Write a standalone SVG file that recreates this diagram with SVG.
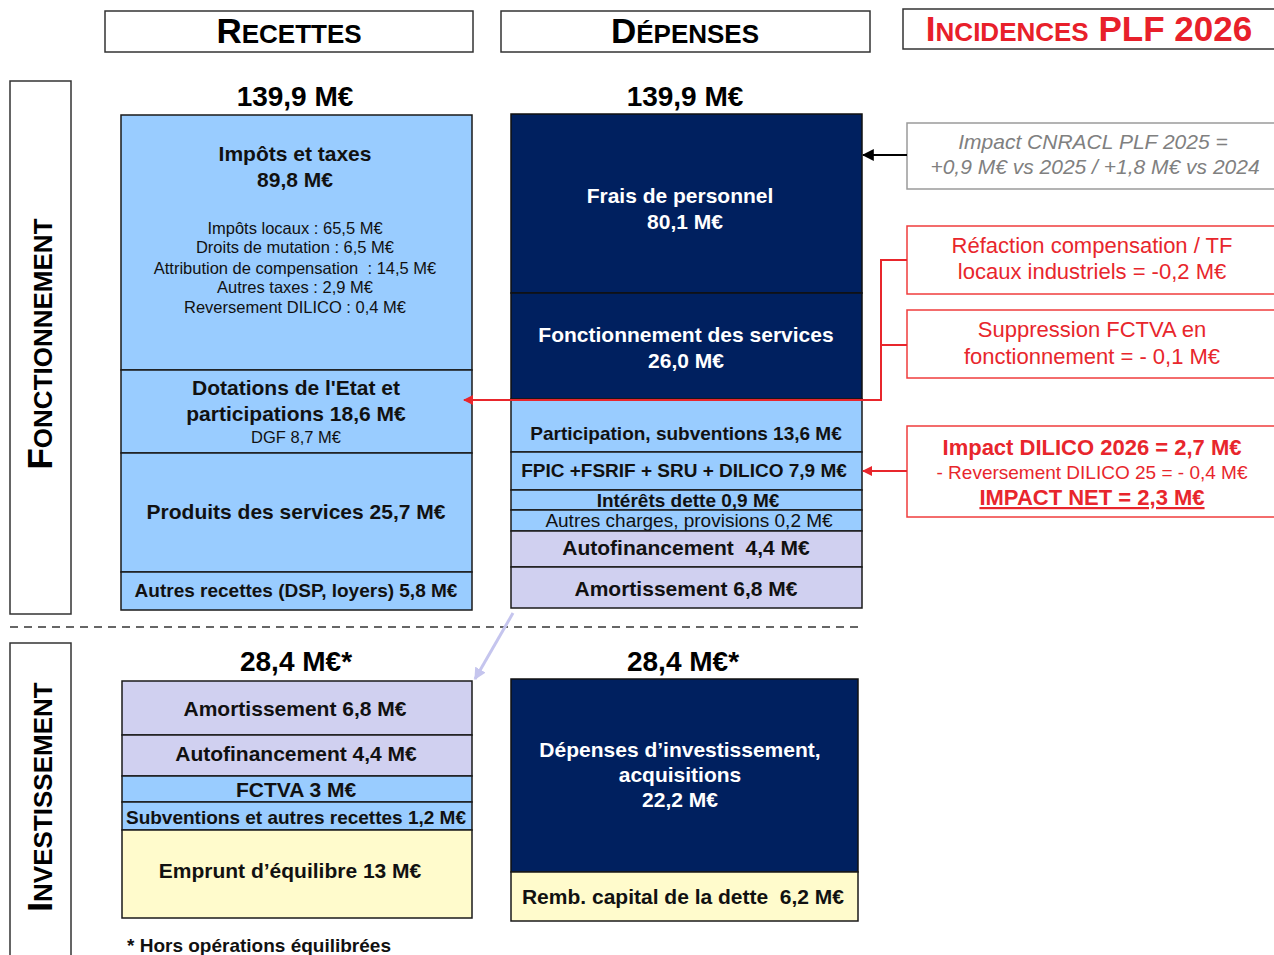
<svg xmlns="http://www.w3.org/2000/svg" width="1274" height="955" viewBox="0 0 1274 955">
<defs>
<style>
text{font-family:"Liberation Sans",Arial,sans-serif;}
.hd{font-weight:bold;fill:#000;}
.b{font-weight:bold;font-size:21px;fill:#111;text-anchor:middle;}
.b19{font-weight:bold;font-size:19px;fill:#111;text-anchor:middle;}
.w{font-weight:bold;font-size:21px;fill:#fff;text-anchor:middle;}
.s{font-size:16.5px;fill:#111;text-anchor:middle;}
.tot{font-weight:bold;font-size:28px;fill:#000;text-anchor:middle;}
.lb{fill:#99ccff;stroke:#1a1a1a;stroke-width:1.5;}
.nv{fill:#00205f;stroke:#111;stroke-width:1.5;}
.lv{fill:#d0d0f0;stroke:#1a1a1a;stroke-width:1.5;}
.yl{fill:#fffbcc;stroke:#1a1a1a;stroke-width:1.5;}
.frame{fill:#fff;stroke:#333;stroke-width:1.5;}
.rbox{fill:#fff;stroke:#f03c3c;stroke-width:1.5;}
.rt{font-size:22px;fill:#e8262c;text-anchor:middle;}
.gt{font-size:21px;font-style:italic;fill:#808080;text-anchor:middle;}
</style>
<marker id="ab" viewBox="0 0 10 10" refX="9" refY="5" markerWidth="6" markerHeight="6" orient="auto"><path d="M0,0 L10,5 L0,10 z" fill="#000"/></marker>
<marker id="ar" viewBox="0 0 10 10" refX="9" refY="5" markerWidth="5" markerHeight="5" orient="auto"><path d="M0,0 L10,5 L0,10 z" fill="#e8262c"/></marker>
<marker id="al" viewBox="0 0 10 10" refX="9" refY="5" markerWidth="4" markerHeight="4" orient="auto"><path d="M0,0 L10,5 L0,10 z" fill="#c5c5ee"/></marker>
</defs>
<rect width="1274" height="955" fill="#fff"/>

<g id="headers">
<rect class="frame" x="105" y="11" width="368" height="41"/>
<text class="hd" x="289" y="43" text-anchor="middle" font-size="35">R<tspan font-size="26">ECETTES</tspan></text>
<rect class="frame" x="501" y="11" width="369" height="41"/>
<text class="hd" x="685" y="43" text-anchor="middle" font-size="35">D<tspan font-size="26">ÉPENSES</tspan></text>
<rect class="frame" x="903" y="9" width="380" height="40"/>
<text x="1089" y="41" text-anchor="middle" font-size="35" font-weight="bold" fill="#e8202a">I<tspan font-size="26">NCIDENCES</tspan> PLF 2026</text>
</g>

<g id="section-fonctionnement">
<rect class="frame" x="10" y="81" width="61" height="533"/>
<text class="hd" transform="translate(52,344) rotate(-90)" text-anchor="middle" font-size="35">F<tspan font-size="26">ONCTIONNEMENT</tspan></text>
</g>
<g id="section-investissement">
<rect class="frame" x="10" y="643" width="61" height="330"/>
<text class="hd" transform="translate(52,797) rotate(-90)" text-anchor="middle" font-size="35">I<tspan font-size="26">NVESTISSEMENT</tspan></text>
</g>
<line x1="10" y1="627" x2="860" y2="627" stroke="#666" stroke-width="2" stroke-dasharray="8,6"/>

<g id="totals">
<text class="tot" x="295" y="106">139,9 M€</text>
<text class="tot" x="685" y="106">139,9 M€</text>
<text class="tot" x="296" y="671">28,4 M€*</text>
<text class="tot" x="683" y="671">28,4 M€*</text>
</g>

<g id="rec-impots">
<rect class="lb" x="121" y="115" width="351" height="255"/>
<text class="b" x="295" y="161">Impôts et taxes</text>
<text class="b" x="295" y="187">89,8 M€</text>
<text class="s" x="295" y="234">Impôts locaux : 65,5 M€</text>
<text class="s" x="295" y="253">Droits de mutation : 6,5 M€</text>
<text class="s" x="295" y="274" xml:space="preserve">Attribution de compensation  : 14,5 M€</text>
<text class="s" x="295" y="293">Autres taxes : 2,9 M€</text>
<text class="s" x="295" y="313">Reversement DILICO : 0,4 M€</text>
</g>
<g id="rec-dotations">
<rect class="lb" x="121" y="370" width="351" height="83"/>
<text class="b" x="296" y="395">Dotations de l'Etat et</text>
<text class="b" x="296" y="421">participations 18,6 M€</text>
<text class="s" x="296" y="443">DGF 8,7 M€</text>
</g>
<g id="rec-produits">
<rect class="lb" x="121" y="453" width="351" height="119"/>
<text class="b" x="296" y="519">Produits des services 25,7 M€</text>
</g>
<g id="rec-autres">
<rect class="lb" x="121" y="572" width="351" height="38"/>
<text class="b19" x="296" y="597">Autres recettes (DSP, loyers) 5,8 M€</text>
</g>

<g id="dep-personnel">
<rect class="nv" x="511" y="114" width="351" height="179"/>
<text class="w" x="680" y="203">Frais de personnel</text>
<text class="w" x="685" y="229">80,1 M€</text>
</g>
<g id="dep-fonctionnement">
<rect class="nv" x="511" y="293" width="351" height="106"/>
<text class="w" x="686" y="342">Fonctionnement des services</text>
<text class="w" x="686" y="368">26,0 M€</text>
</g>
<g id="dep-participation">
<rect class="lb" x="511" y="399" width="351" height="53"/>
<text class="b19" x="686" y="440">Participation, subventions 13,6 M€</text>
</g>
<g id="dep-fpic">
<rect class="lb" x="511" y="452" width="351" height="38"/>
<text class="b19" x="684" y="477">FPIC +FSRIF + SRU + DILICO 7,9 M€</text>
</g>
<g id="dep-interets">
<rect class="lb" x="511" y="490" width="351" height="20"/>
<text class="b19" x="688" y="507">Intérêts dette 0,9 M€</text>
</g>
<g id="dep-autres">
<rect class="lb" x="511" y="510" width="351" height="21"/>
<text x="689" y="527" font-size="19" fill="#111" text-anchor="middle">Autres charges, provisions 0,2 M€</text>
</g>
<g id="dep-autofinancement">
<rect class="lv" x="511" y="531" width="351" height="36"/>
<text class="b" x="686" y="555" xml:space="preserve">Autofinancement  4,4 M€</text>
</g>
<g id="dep-amortissement">
<rect class="lv" x="511" y="567" width="351" height="41"/>
<text class="b" x="686" y="596">Amortissement 6,8 M€</text>
</g>

<g id="inv-amortissement">
<rect class="lv" x="122" y="681" width="350" height="54"/>
<text class="b" x="295" y="716">Amortissement 6,8 M€</text>
</g>
<g id="inv-autofinancement">
<rect class="lv" x="122" y="735" width="350" height="41"/>
<text class="b" x="296" y="761">Autofinancement 4,4 M€</text>
</g>
<g id="inv-fctva">
<rect class="lb" x="122" y="776" width="350" height="26"/>
<text class="b" x="296" y="797">FCTVA 3 M€</text>
</g>
<g id="inv-subventions">
<rect class="lb" x="122" y="802" width="350" height="28"/>
<text class="b19" x="296" y="824">Subventions et autres recettes 1,2 M€</text>
</g>
<g id="inv-emprunt">
<rect class="yl" x="122" y="830" width="350" height="88"/>
<text class="b" x="290" y="878">Emprunt d’équilibre 13 M€</text>
</g>
<g id="inv-depenses">
<rect class="nv" x="511" y="679" width="347" height="193"/>
<text class="w" x="680" y="757">Dépenses d’investissement,</text>
<text class="w" x="680" y="782">acquisitions</text>
<text class="w" x="680" y="807">22,2 M€</text>
</g>
<g id="inv-remb">
<rect class="yl" x="511" y="872" width="347" height="49"/>
<text class="b" x="683" y="904" xml:space="preserve">Remb. capital de la dette  6,2 M€</text>
</g>
<text x="127" y="952" font-weight="bold" font-size="19" fill="#111">* Hors opérations équilibrées</text>

<g id="inc-cnracl">
<rect x="907" y="123" width="380" height="66" fill="#fff" stroke="#9a9a9a" stroke-width="1.5"/>
<text class="gt" x="1093" y="149">Impact CNRACL PLF 2025 =</text>
<text class="gt" x="1095" y="174">+0,9 M€ vs 2025 / +1,8 M€ vs 2024</text>
</g>
<g id="inc-refaction">
<rect class="rbox" x="907" y="226" width="380" height="68"/>
<text class="rt" x="1092" y="253">Réfaction compensation / TF</text>
<text class="rt" x="1092" y="279">locaux industriels = -0,2 M€</text>
</g>
<g id="inc-fctva">
<rect class="rbox" x="907" y="310" width="380" height="68"/>
<text class="rt" x="1092" y="337">Suppression FCTVA en</text>
<text class="rt" x="1092" y="364">fonctionnement = - 0,1 M€</text>
</g>
<g id="inc-dilico">
<rect class="rbox" x="907" y="426" width="380" height="91"/>
<text class="rt" x="1092" y="455" font-weight="bold">Impact DILICO 2026 = 2,7 M€</text>
<text class="rt" x="1092" y="479" style="font-size:19px">- Reversement DILICO 25 = - 0,4 M€</text>
<text class="rt" x="1092" y="505" font-weight="bold" text-decoration="underline">IMPACT NET = 2,3 M€</text>
</g>

<g id="connectors" fill="none">
<line x1="907" y1="155" x2="863" y2="155" stroke="#000" stroke-width="2" marker-end="url(#ab)"/>
<polyline points="907,260 881,260 881,400 464,400" stroke="#e8262c" stroke-width="2" marker-end="url(#ar)"/>
<line x1="907" y1="345" x2="881" y2="345" stroke="#e8262c" stroke-width="2"/>
<line x1="907" y1="471" x2="863" y2="471" stroke="#e8262c" stroke-width="2" marker-end="url(#ar)"/>
<line x1="513" y1="613" x2="475" y2="679" stroke="#c5c5ee" stroke-width="3" marker-end="url(#al)"/>
</g>
</svg>
